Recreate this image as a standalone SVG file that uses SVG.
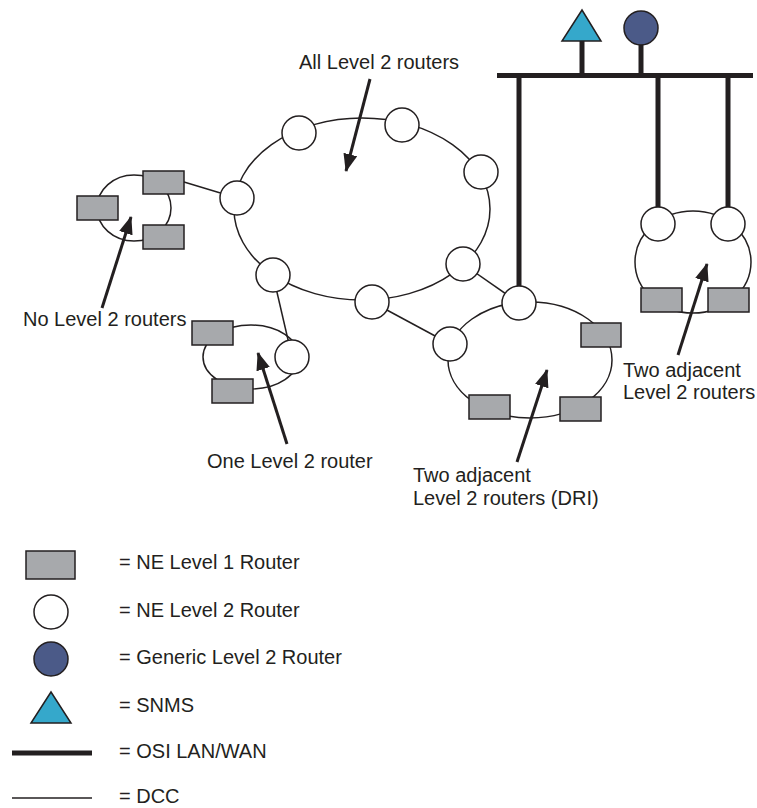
<svg xmlns="http://www.w3.org/2000/svg" width="757" height="808" viewBox="0 0 757 808">
<style>
  .t{font-family:"Liberation Sans",Arial,Helvetica,sans-serif;font-size:20px;fill:#231f20}
  .dcc{fill:none;stroke:#231f20;stroke-width:1.5}
  .lan{stroke:#231f20;stroke-width:5;fill:none}
  .l1{fill:#a7a9ac;stroke:#231f20;stroke-width:1.5}
  .l2{fill:#ffffff;stroke:#231f20;stroke-width:1.5}
  .gen{fill:#4b5a88;stroke:#231f20;stroke-width:1.5}
  .snms{fill:#35a8cb;stroke:#231f20;stroke-width:1.5}
  .arr{stroke:#231f20;stroke-width:3;fill:none;marker-end:url(#ah)}
</style>
<defs>
  <marker id="ah" markerUnits="userSpaceOnUse" markerWidth="20" markerHeight="14" refX="17" refY="7" orient="auto">
    <path d="M0,0 L18,7 L0,14 z" fill="#231f20"/>
  </marker>
</defs>
<rect width="757" height="808" fill="#ffffff"/>

<g id="connectors">
  <!-- DCC rings -->
  <ellipse class="dcc" cx="362" cy="209" rx="128" ry="91"/>
  <ellipse class="dcc" cx="134" cy="208" rx="37" ry="33"/>
  <ellipse class="dcc" cx="251" cy="357" rx="48" ry="32"/>
  <ellipse class="dcc" cx="530" cy="360" rx="82" ry="58"/>
  <ellipse class="dcc" cx="693" cy="262" rx="58" ry="51"/>
  <!-- DCC links -->
  <line class="dcc" x1="184" y1="182" x2="237" y2="198"/>
  <line class="dcc" x1="273" y1="275" x2="292" y2="357"/>
  <line class="dcc" x1="463" y1="264" x2="519" y2="303"/>
  <line class="dcc" x1="372" y1="302" x2="450" y2="344"/>
  <!-- OSI LAN/WAN -->
  <line class="lan" x1="497" y1="75.5" x2="753" y2="75.5"/>
  <line class="lan" x1="582" y1="41" x2="582" y2="75"/>
  <line class="lan" x1="641" y1="44" x2="641" y2="75"/>
  <line class="lan" x1="519" y1="75" x2="519" y2="287"/>
  <line class="lan" x1="658" y1="75" x2="658" y2="207"/>
  <line class="lan" x1="728" y1="75" x2="728" y2="207"/>
</g>

<g id="big-ring">
  <circle class="l2" cx="299" cy="133" r="17"/>
  <circle class="l2" cx="402" cy="125" r="17"/>
  <circle class="l2" cx="481" cy="172" r="17"/>
  <circle class="l2" cx="237" cy="198" r="17"/>
  <circle class="l2" cx="273" cy="275" r="17"/>
  <circle class="l2" cx="372" cy="302" r="17"/>
  <circle class="l2" cx="463" cy="264" r="17"/>
</g>

<g id="area-no-l2">
  <rect class="l1" x="143" y="171" width="41" height="23"/>
  <rect class="l1" x="77" y="196" width="41" height="24"/>
  <rect class="l1" x="143" y="225" width="41" height="24"/>
</g>

<g id="area-one-l2">
  <rect class="l1" x="192" y="321" width="41" height="24"/>
  <rect class="l1" x="212" y="379" width="41" height="24"/>
  <circle class="l2" cx="292" cy="357" r="17"/>
</g>

<g id="area-dri">
  <circle class="l2" cx="519" cy="303" r="17"/>
  <circle class="l2" cx="450" cy="344" r="17"/>
  <rect class="l1" x="581" y="323" width="40" height="24"/>
  <rect class="l1" x="469" y="395" width="41" height="24"/>
  <rect class="l1" x="560" y="397" width="41" height="24"/>
</g>

<g id="area-right">
  <circle class="l2" cx="658" cy="224" r="17"/>
  <circle class="l2" cx="728" cy="224" r="17"/>
  <rect class="l1" x="641" y="288" width="41" height="24"/>
  <rect class="l1" x="708" y="288" width="41" height="24"/>
</g>

<g id="snms">
  <polygon class="snms" points="582,10 601,41 562,41"/>
</g>
<g id="generic-l2">
  <circle class="gen" cx="641" cy="28" r="17"/>
</g>

<g id="annotations">
  <line class="arr" x1="370" y1="79" x2="346" y2="171"/>
  <text class="t" x="299" y="69">All Level 2 routers</text>
  <line class="arr" x1="102" y1="308" x2="131" y2="217"/>
  <text class="t" x="23" y="326">No Level 2 routers</text>
  <line class="arr" x1="287" y1="444" x2="258" y2="353"/>
  <text class="t" x="207" y="468">One Level 2 router</text>
  <line class="arr" x1="517" y1="462" x2="547" y2="370"/>
  <text class="t" x="413" y="482">Two adjacent</text>
  <text class="t" x="413" y="505">Level 2 routers (DRI)</text>
  <line class="arr" x1="678" y1="355" x2="707" y2="264"/>
  <text class="t" x="623" y="377">Two adjacent</text>
  <text class="t" x="623" y="399">Level 2 routers</text>
</g>

<g id="legend">
  <rect class="l1" x="26" y="551" width="49" height="28"/>
  <text class="t" x="119" y="569">= NE Level 1 Router</text>
  <circle class="l2" cx="51" cy="612" r="17"/>
  <text class="t" x="119" y="617">= NE Level 2 Router</text>
  <circle class="gen" cx="51" cy="659" r="17"/>
  <text class="t" x="119" y="664">= Generic Level 2 Router</text>
  <polygon class="snms" points="51,692 71,723 31,723"/>
  <text class="t" x="119" y="712">= SNMS</text>
  <line class="lan" x1="12" y1="753" x2="92" y2="753"/>
  <text class="t" x="119" y="758">= OSI LAN/WAN</text>
  <line class="dcc" x1="12" y1="798" x2="92" y2="798"/>
  <text class="t" x="119" y="803">= DCC</text>
</g>
</svg>
